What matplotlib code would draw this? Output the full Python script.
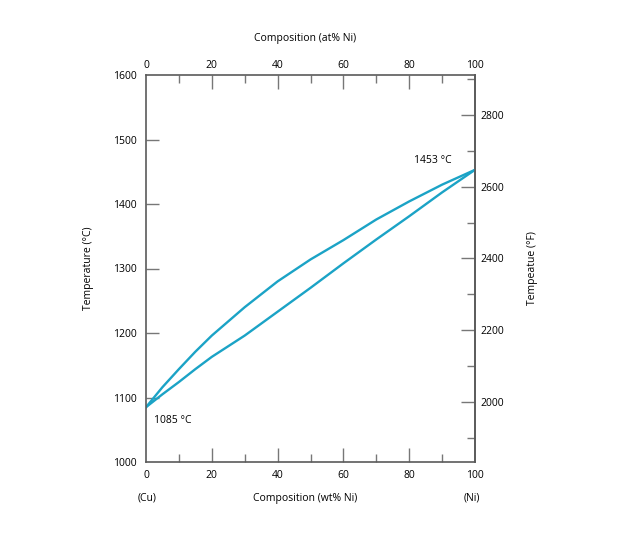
import matplotlib
matplotlib.use("Agg")
import matplotlib.pyplot as plt
import numpy as np

plt.rcParams['font.family'] = ['Open Sans', 'DejaVu Sans']

# Data
wt_ni = [0, 5, 10, 15, 20, 30, 40, 50, 60, 70, 80, 90, 100]
liquidus_c = [1085, 1116, 1144, 1171, 1196, 1240, 1280, 1314, 1344, 1376, 1404, 1430, 1453]
solidus_c = [1085, 1105, 1124, 1144, 1163, 1196, 1233, 1270, 1308, 1345, 1381, 1418, 1453]

bottom_ticks = [0, 20, 40, 60, 80, 100]
bottom_minor = [10, 30, 50, 70, 90]
top_labels = ["0", "20", "40", "60", "80", "100"]
left_ticks = [1000, 1100, 1200, 1300, 1400, 1500, 1600]
right_major_f = [2000, 2200, 2400, 2600, 2800]
right_minor_f = [1900, 2100, 2300, 2500, 2700, 2900]

line_color = '#1ba3c6'
spine_color = '#5a5a5a'
fs = 7.5

fig = plt.figure(figsize=(6.38, 5.36), dpi=100)
ax = fig.add_axes([146/638, 1-462/536, (475-146)/638, (462-75)/536])
ax.plot(wt_ni, liquidus_c, color=line_color, lw=1.7, solid_joinstyle='round')
ax.plot(wt_ni, solidus_c, color=line_color, lw=1.7, solid_joinstyle='round')
ax.set_xlim(0, 100)
ax.set_ylim(1000, 1600)

for s in ax.spines.values():
    s.set_color(spine_color)
    s.set_linewidth(1.2)

# bottom axis
ax.set_xticks(bottom_ticks)
ax.set_xticks(bottom_minor, minor=True)
ax.tick_params(axis='x', which='major', direction='in', length=10, width=1.0,
               color='#777777', labelsize=fs, pad=6, top=True, labeltop=False)
ax.tick_params(axis='x', which='minor', direction='in', length=6, width=1.0,
               color='#777777', top=True)
# left axis
ax.set_yticks(left_ticks)
ax.tick_params(axis='y', which='major', direction='in', length=9, width=1.0,
               color='#777777', labelsize=fs, pad=7)
ax.yaxis.set_major_formatter(matplotlib.ticker.FuncFormatter(lambda v, p: f"{int(v)}"))
ticks = ax.yaxis.get_major_ticks()
ticks[0].tick1line.set_visible(False)
ticks[-1].tick1line.set_visible(False)
xt = ax.xaxis.get_major_ticks()
xt[0].tick1line.set_visible(False); xt[0].tick2line.set_visible(False)
xt[-1].tick1line.set_visible(False); xt[-1].tick2line.set_visible(False)

# top axis (at% Ni) labels
for v, lab in zip(bottom_ticks, top_labels):
    ax.text(v, 1600 + 6, lab, ha='center', va='bottom', fontsize=fs)

# right axis (°F)
def c2f(c):
    return c * 9 / 5 + 32

def f2c(f):
    return (f - 32) * 5 / 9

sec = ax.secondary_yaxis('right', functions=(c2f, f2c))
sec.set_yticks(right_major_f)
sec.set_yticks(right_minor_f, minor=True)
sec.tick_params(axis='y', which='major', direction='in', length=10, width=1.0,
                color='#777777', labelsize=fs, pad=4)
sec.tick_params(axis='y', which='minor', direction='in', length=6, width=1.0,
                color='#777777')
sec.spines['right'].set_color(spine_color)
sec.spines['right'].set_linewidth(1.2)

# Annotations
ax.text(81.5, 1467, "1453 °C", fontsize=fs, ha='left', va='center')
ax.text(2.5, 1064, "1085 °C", fontsize=fs, ha='left', va='center')

# Axis titles
fig.text(305/638, 1-38/536, "Composition (at% Ni)", ha='center', va='center', fontsize=fs)
fig.text(305/638, 1-498/536, "Composition (wt% Ni)", ha='center', va='center', fontsize=fs)
fig.text(147/638, 1-498/536, "(Cu)", ha='center', va='center', fontsize=fs)
fig.text(472/638, 1-498/536, "(Ni)", ha='center', va='center', fontsize=fs)
fig.text(88/638, 1-268/536, "Temperature (°C)", ha='center', va='center',
         rotation=90, fontsize=fs)
fig.text(532/638, 1-268/536, "Tempeatue (°F)", ha='center', va='center',
         rotation=90, fontsize=fs)

fig.savefig("out.png", dpi=100)
